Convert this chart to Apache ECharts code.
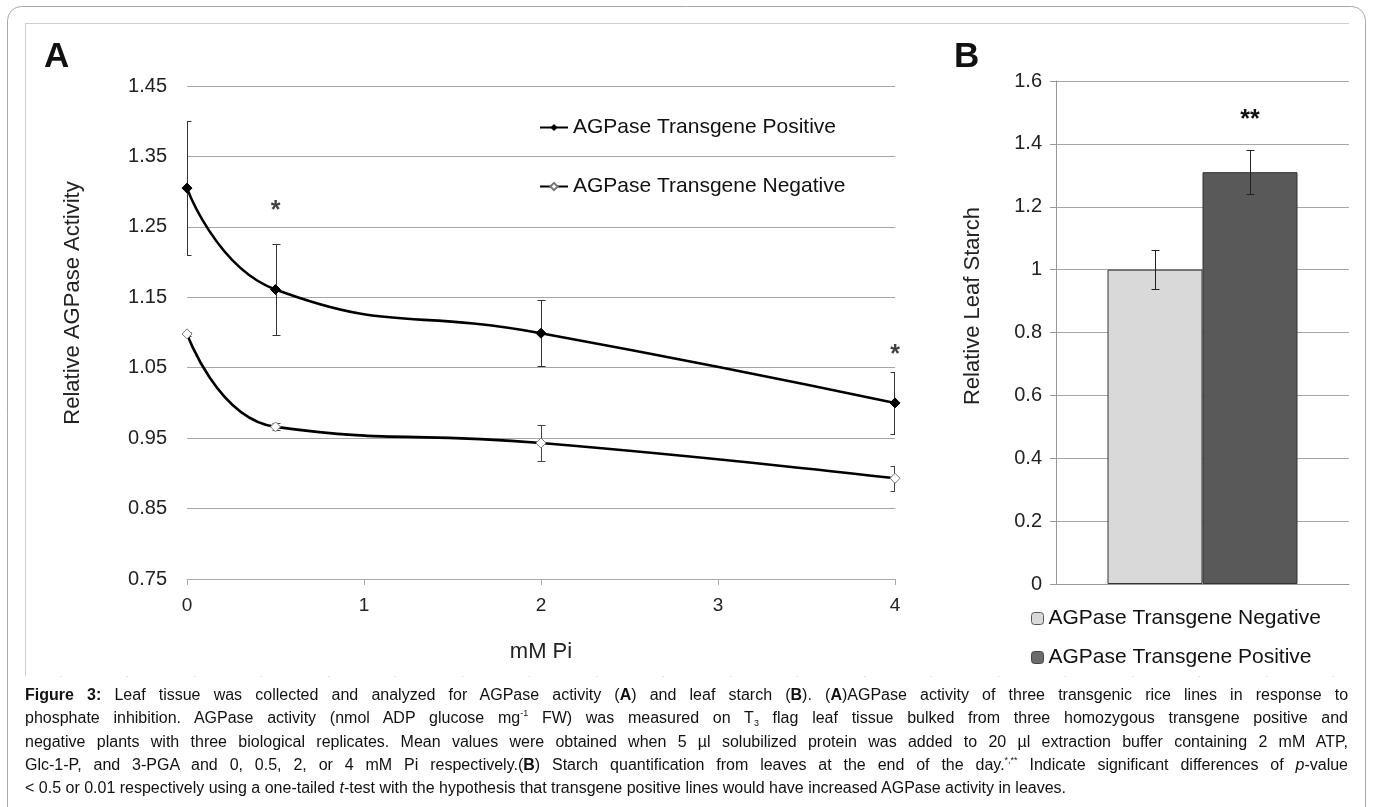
<!DOCTYPE html>
<html>
<head>
<meta charset="utf-8">
<script src="https://cdn.jsdelivr.net/npm/echarts@6/dist/echarts.min.js"></script>
<style>
  html, body { margin: 0; padding: 0; background: #fff; }
  #chart { position: absolute; left: 0; top: 0; width: 1373px; height: 807px; }
  #caption {
    position: absolute; left: 25px; top: 683px; width: 1323px;
    font-family: "Liberation Sans", Arial, sans-serif; font-size: 16px;
    line-height: 23.3px; color: #111;
  }
  #caption div { text-align: justify; text-align-last: justify; white-space: nowrap; }
  #caption div.last { text-align-last: left; }
  #caption sup, #caption sub { font-size: 9px; line-height: 0; position: relative; vertical-align: baseline; }
  #caption sup { top: -7px; }
  #caption sub { top: 3px; }
</style>
</head>
<body>
<div id="chart"></div>
<div id="caption">
  <div><b>Figure 3:</b> Leaf tissue was collected and analyzed for AGPase activity (<b>A</b>) and leaf starch (<b>B</b>). (<b>A</b>)AGPase activity of three transgenic rice lines in response to</div>
  <div>phosphate inhibition. AGPase activity (nmol ADP glucose mg<sup>-1</sup> FW) was measured on T<sub>3</sub> flag leaf tissue bulked from three homozygous transgene positive and</div>
  <div>negative plants with three biological replicates. Mean values were obtained when 5 µl solubilized protein was added to 20 µl extraction buffer containing 2 mM ATP,</div>
  <div>Glc-1-P, and 3-PGA and 0, 0.5, 2, or 4 mM Pi respectively.(<b>B</b>) Starch quantification from leaves at the end of the day.<sup>*,**</sup> Indicate significant differences of <i>p</i>-value</div>
  <div class="last">&lt; 0.5 or 0.01 respectively using a one-tailed <i>t</i>-test with the hypothesis that transgene positive lines would have increased AGPase activity in leaves.</div>
</div>
<script>
// panel A: AGPase activity vs mM Pi
var xPi = [0, 0.5, 2, 4];
var posMean = [1.305, 1.161, 1.099, 1.000];
var posErr = [0.095, 0.064, 0.047, 0.044];
var negMean = [1.098, 0.966, 0.943, 0.893];
var negErr = [0.003, 0.005, 0.026, 0.018];
var starA = [[0.5, 1.272], [4, 1.068]];

// panel B: relative leaf starch
var starchCat = ['Leaf starch'];
var starchNeg = [1.0];
var starchNegErr = [0.061];
var starchPos = [1.31];
var starchPosErr = [0.07];

var nameNeg = 'AGPase Transgene Negative';
var namePos = 'AGPase Transgene Positive';
var font = '"Liberation Sans", Arial, sans-serif';

function pairs(xs, ys) {
  return xs.map(function (x, i) { return [x, ys[i]]; });
}
function errData(xs, m, e) {
  return xs.map(function (x, i) { return [x, m[i] - e[i], m[i] + e[i]]; });
}
// error bar drawing, dx = pixel shift for grouped bars; caps are cut at the plot edge
function errRender(color, capW, dx) {
  return function (params, api) {
    var cs = params.coordSys;
    var top = api.coord([api.value(0), api.value(2)]);
    var bot = api.coord([api.value(0), api.value(1)]);
    var x = Math.round(top[0] + dx) + 0.5;
    x = Math.max(cs.x + 0.5, Math.min(cs.x + cs.width - 0.5, x));
    var xl = Math.max(cs.x, x - capW), xr = Math.min(cs.x + cs.width, x + capW);
    var y1 = Math.round(top[1]) + 0.5, y2 = Math.round(bot[1]) + 0.5;
    var st = { stroke: color, lineWidth: 1 };
    return {
      type: 'group',
      children: [
        { type: 'line', shape: { x1: x, y1: y1, x2: x, y2: y2 }, style: st },
        { type: 'line', shape: { x1: xl, y1: y1, x2: xr, y2: y1 }, style: st },
        { type: 'line', shape: { x1: xl, y1: y2, x2: xr, y2: y2 }, style: st }
      ]
    };
  };
}

var chart = echarts.init(document.getElementById('chart'));
chart.setOption({
  backgroundColor: '#fff',
  animation: false,
  textStyle: { fontFamily: font },
  graphic: [
    { type: 'rect', shape: { x: 7.5, y: 6.5, width: 1358, height: 840, r: 14 },
      style: { fill: 'none', stroke: '#a8a8a8', lineWidth: 1 } },
    { type: 'line', shape: { x1: 25, y1: 23.5, x2: 1349, y2: 23.5 }, style: { stroke: '#d0d0d0', lineWidth: 1 } },
    { type: 'line', shape: { x1: 25.5, y1: 23, x2: 25.5, y2: 676 }, style: { stroke: '#d0d0d0', lineWidth: 1 } },
    { type: 'line', shape: { x1: 60, y1: 676.5, x2: 1349, y2: 676.5 },
      style: { stroke: '#d0d0d0', lineWidth: 1, lineDash: [1, 66] } },
    { type: 'text', left: 44, top: 40, style: { text: 'A', font: 'bold 35px ' + font, fill: '#111' } },
    { type: 'text', left: 954, top: 40, style: { text: 'B', font: 'bold 35px ' + font, fill: '#111' } },
    { type: 'text', x: 73, y: 303, rotation: Math.PI / 2,
      style: { text: 'Relative AGPase Activity', font: '22px ' + font, fill: '#222', align: 'center', verticalAlign: 'middle' } },
    { type: 'text', x: 973, y: 306, rotation: Math.PI / 2,
      style: { text: 'Relative Leaf Starch', font: '22px ' + font, fill: '#222', align: 'center', verticalAlign: 'middle' } }
  ],
  legend: [
    {
      orient: 'vertical', left: 534, top: 112, itemGap: 38, itemWidth: 28, itemHeight: 9,
      data: [namePos, nameNeg],
      textStyle: { fontSize: 21, color: '#111', fontFamily: font }
    },
    {
      orient: 'vertical', left: 1026, top: 603, itemGap: 18, itemWidth: 12, itemHeight: 12,
      data: [
        { name: nameNeg + ' ', itemStyle: { color: '#d9d9d9', borderColor: '#555', borderWidth: 1 } },
        { name: namePos + ' ', itemStyle: { color: '#6b6b6b', borderColor: '#444', borderWidth: 1 } }
      ],
      textStyle: { fontSize: 21, color: '#111', fontFamily: font }
    }
  ],
  grid: [
    { left: 187, top: 86, width: 708, height: 493 },
    { left: 1056, top: 81, width: 293, height: 503 }
  ],
  xAxis: [
    {
      gridIndex: 0, type: 'value', min: 0, max: 4, interval: 1,
      axisLine: { lineStyle: { color: '#aaa' } },
      axisTick: { show: true, length: 6, lineStyle: { color: '#aaa' } },
      splitLine: { show: false },
      axisLabel: { fontSize: 19, color: '#222', margin: 17 },
      name: 'mM Pi', nameLocation: 'middle', nameGap: 62,
      nameTextStyle: { fontSize: 22, color: '#222' }
    },
    {
      gridIndex: 1, type: 'category', data: starchCat,
      axisLine: { lineStyle: { color: '#999' } },
      axisTick: { show: false }, axisLabel: { show: false }
    }
  ],
  yAxis: [
    {
      gridIndex: 0, type: 'value', min: 0.75, max: 1.45, interval: 0.1,
      axisLine: { show: false }, axisTick: { show: false },
      splitLine: { lineStyle: { color: '#a6a6a6' } },
      axisLabel: { fontSize: 20, color: '#222', margin: 20,
        formatter: function (v) { return v.toFixed(2); } }
    },
    {
      gridIndex: 1, type: 'value', min: 0, max: 1.6, interval: 0.2,
      axisLine: { show: true, lineStyle: { color: '#999' } },
      axisTick: { show: true, length: 6, lineStyle: { color: '#999' } },
      splitLine: { lineStyle: { color: '#a6a6a6' } },
      axisLabel: { fontSize: 20, color: '#222', margin: 14,
        formatter: function (v) { return String(Math.round(v * 10) / 10); } }
    }
  ],
  series: [
    {
      name: 'errPos', type: 'custom', xAxisIndex: 0, yAxisIndex: 0, clip: false, z: 1,
      renderItem: errRender('#333', 4, 0), data: errData(xPi, posMean, posErr), silent: true
    },
    {
      name: 'errNeg', type: 'custom', xAxisIndex: 0, yAxisIndex: 0, clip: false, z: 1,
      renderItem: errRender('#444', 4, 0), data: errData(xPi, negMean, negErr), silent: true
    },
    {
      name: namePos, type: 'line', xAxisIndex: 0, yAxisIndex: 0, smooth: 0.5, z: 3,
      data: pairs(xPi, posMean),
      symbol: 'diamond', symbolSize: 10,
      lineStyle: { color: '#000', width: 2.6 },
      itemStyle: { color: '#000', borderColor: '#000' }
    },
    {
      name: nameNeg, type: 'line', xAxisIndex: 0, yAxisIndex: 0, smooth: 0.5, z: 3,
      data: pairs(xPi, negMean),
      symbol: 'diamond', symbolSize: 10, showSymbol: true,
      lineStyle: { color: '#000', width: 2.6 },
      itemStyle: { color: '#fff', borderColor: '#777', borderWidth: 1 }
    },
    {
      name: 'sigA', type: 'scatter', xAxisIndex: 0, yAxisIndex: 0, symbolSize: 0, z: 4,
      data: starA,
      label: { show: true, position: 'inside', formatter: '*',
        fontSize: 25, fontWeight: 'bold', color: '#111' }
    },
    {
      name: nameNeg + ' ', type: 'bar', xAxisIndex: 1, yAxisIndex: 1,
      barWidth: 95, barGap: '0%', data: starchNeg,
      itemStyle: { color: '#d9d9d9', borderColor: '#333', borderWidth: 1 }
    },
    {
      name: namePos + ' ', type: 'bar', xAxisIndex: 1, yAxisIndex: 1,
      barWidth: 95, barGap: '0%', data: starchPos,
      itemStyle: { color: '#595959', borderColor: '#333', borderWidth: 1 },
      label: { show: true, position: 'top', distance: 40, formatter: '**',
        fontSize: 25, fontWeight: 'bold', color: '#111' }
    },
    {
      name: 'errStarchNeg', type: 'custom', xAxisIndex: 1, yAxisIndex: 1, z: 5, silent: true,
      renderItem: errRender('#222', 4, -47.5),
      data: errData([0], starchNeg, starchNegErr)
    },
    {
      name: 'errStarchPos', type: 'custom', xAxisIndex: 1, yAxisIndex: 1, z: 5, silent: true,
      renderItem: errRender('#222', 4, 47.5),
      data: errData([0], starchPos, starchPosErr)
    }
  ]
});
</script>
</body>
</html>
